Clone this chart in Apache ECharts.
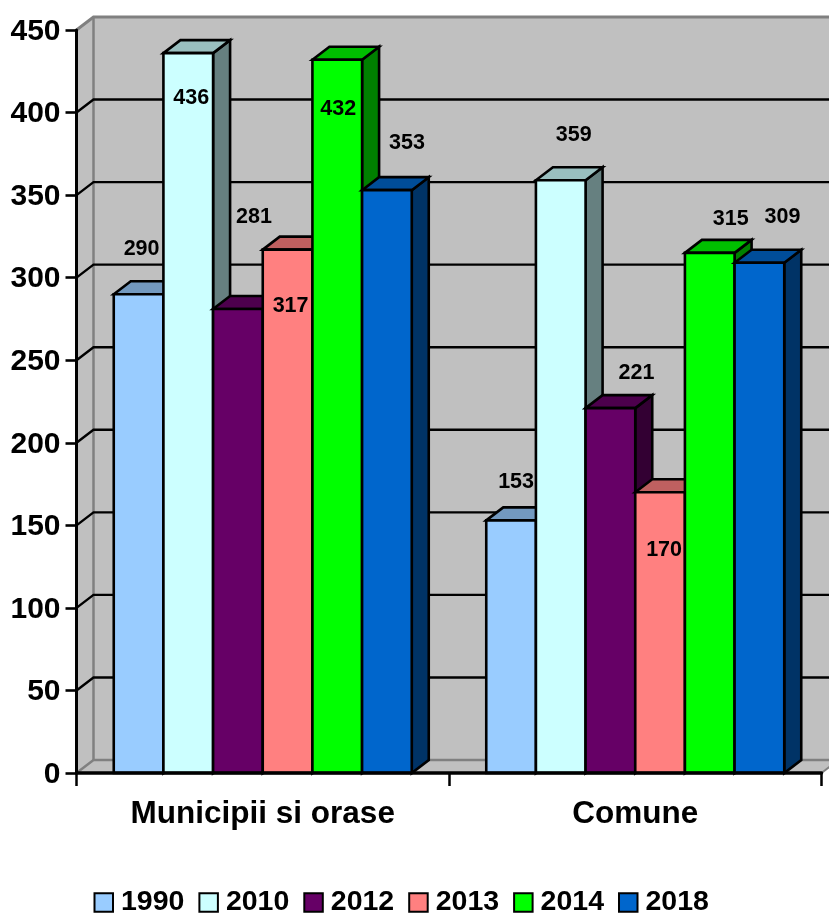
<!DOCTYPE html>
<html>
<head>
<meta charset="utf-8">
<style>html,body{margin:0;padding:0;background:#fff}#c{width:829px;height:914px}</style>
<script src="https://cdn.jsdelivr.net/npm/echarts@6/dist/echarts.min.js"></script>
</head>
<body>
<div id="c"></div>
<script>
const categories = ['Municipii si orase', 'Comune'];
const years = ['1990', '2010', '2012', '2013', '2014', '2018'];
const v1990 = [290, 153];
const v2010 = [436, 359];
const v2012 = [281, 221];
const v2013 = [317, 170];
const v2014 = [432, 315];
const v2018 = [353, 309];
const seriesValues = [v1990, v2010, v2012, v2013, v2014, v2018];
const yTicks = [0, 50, 100, 150, 200, 250, 300, 350, 400, 450];
const colors = ['#99CCFF', '#CCFFFF', '#660066', '#FF8080', '#00FF00', '#0066CC'];
// hand-placed label shifts from the bar's top centre, as in the reference
const labelShift = [
  [[3, -45], [5, -38]],
  [[3, 45], [13, -45]],
  [[16, -92], [26, -35]],
  [[3, 56], [4, 58]],
  [[1, 49], [21, -34]],
  [[20, -47], [23, -46]]
];
const DX = 17, DY = 13, FONT = '"Liberation Sans", Arial, sans-serif';

function shade(hex, k) {
  const n = parseInt(hex.slice(1), 16);
  const c = [(n >> 16) & 255, (n >> 8) & 255, n & 255].map(x => Math.round(x * k));
  return 'rgb(' + c.join(',') + ')';
}
function barGeom(api, s) {
  const p = api.coord([api.value(0), api.value(1)]);
  const base = api.coord([api.value(0), 0]);
  const band = api.size([1, 0])[0];
  const w = band / (years.length + 1.5);
  const x = p[0] - band / 2 + 0.75 * w + s * w;
  return { x, w, top: p[1], base: base[1], cx: x + w / 2 };
}
const poly = (points, fill, stroke, lw) => ({
  type: 'polygon', shape: { points },
  style: { fill, stroke, lineWidth: lw, lineJoin: 'miter' }
});
const line = (pts, stroke, lw) => ({
  type: 'polyline', shape: { points: pts },
  style: { fill: 'none', stroke, lineWidth: lw }
});

const wallSeries = {
  type: 'custom', name: 'wall', z: 1, silent: true,
  data: yTicks.map(t => [0, t]),
  encode: { x: 0, y: 1 },
  renderItem(params, api) {
    const t = api.value(1);
    const band = api.size([1, 0])[0];
    const c = api.coord([0, t]);
    const L = c[0] - band / 2, R = L + band * categories.length;
    const y = c[1];
    const children = [];
    if (params.dataIndex === 0) {
      const top = api.coord([0, yTicks[yTicks.length - 1]])[1];
      const G = '#C0C0C0', E = '#808080';
      children.push(poly([[L + DX, top - DY], [R + DX, top - DY], [R + DX, y - DY], [L + DX, y - DY]], G, null, 0));
      children.push(poly([[L, top], [L + DX, top - DY], [L + DX, y - DY], [L, y]], G, null, 0));
      children.push(poly([[L, y], [L + DX, y - DY], [R + DX, y - DY], [R, y]], G, null, 0));
      children.push(line([[L, top], [L + DX, top - DY], [R + DX, top - DY]], E, 3));
      children.push(line([[L + DX, top - DY], [L + DX, y - DY]], E, 2.5));
      children.push(line([[L, y], [L + DX, y - DY], [R + DX, y - DY]], E, 2.5));
      children.push(line([[R, y], [R + DX, y - DY]], E, 2));
    } else if (t !== yTicks[yTicks.length - 1]) {
      children.push(line([[L, y], [L + DX, y - DY], [R + DX, y - DY]], '#000', 2.4));
    }
    return { type: 'group', children };
  }
};

const barSeries = years.map((name, s) => ({
  type: 'custom', name, z: 2, silent: true,
  itemStyle: { color: colors[s] },
  data: seriesValues[s].map((v, i) => [i, v]),
  encode: { x: 0, y: 1 },
  renderItem(params, api) {
    const g = barGeom(api, s);
    const c = colors[s];
    return {
      type: 'group',
      children: [
        poly([[g.x + g.w, g.top], [g.x + g.w + DX, g.top - DY], [g.x + g.w + DX, g.base - DY], [g.x + g.w, g.base]], shade(c, 0.5), '#000', 2.6),
        poly([[g.x, g.top], [g.x + DX, g.top - DY], [g.x + g.w + DX, g.top - DY], [g.x + g.w, g.top]], shade(c, 0.75), '#000', 2.6),
        poly([[g.x, g.top], [g.x + g.w, g.top], [g.x + g.w, g.base], [g.x, g.base]], c, '#000', 2.6)
      ]
    };
  }
}));

const labelSeries = years.map((name, s) => ({
  type: 'custom', name: 'label' + name, z: 5, silent: true,
  data: seriesValues[s].map((v, i) => [i, v]),
  encode: { x: 0, y: 1 },
  renderItem(params, api) {
    const g = barGeom(api, s);
    const d = labelShift[s][params.dataIndex];
    return {
      type: 'text',
      style: {
        x: g.cx + d[0], y: g.top + d[1], text: String(api.value(1)),
        fill: '#000', align: 'center', verticalAlign: 'middle',
        font: 'bold 21.5px ' + FONT
      }
    };
  }
}));

const chart = echarts.init(document.getElementById('c'), null, { renderer: 'canvas', width: 829, height: 914 });
chart.setOption({
  animation: false,
  backgroundColor: '#fff',
  tooltip: { show: false },
  grid: { left: 76.5, top: 30, width: 745, height: 743, containLabel: false },
  xAxis: {
    type: 'category', data: categories, z: 6,
    axisLine: { show: true, lineStyle: { color: '#000', width: 3.5 } },
    axisTick: { show: true, length: 13, lineStyle: { color: '#000', width: 2.5 } },
    axisLabel: { color: '#000', fontFamily: FONT, fontWeight: 'bold', fontSize: 31.5, margin: 25, interval: 0 },
    splitLine: { show: false }
  },
  yAxis: {
    type: 'value', min: 0, max: 450, interval: 50, z: 6,
    axisLine: { show: true, lineStyle: { color: '#000', width: 3 } },
    axisTick: { show: true, length: 11, lineStyle: { color: '#000', width: 2.6 } },
    axisLabel: {
      margin: 16, formatter: '{a|{value}}',
      rich: { a: { color: '#000', fontFamily: FONT, fontWeight: 'bold', fontSize: 30, lineHeight: 30, padding: [3, 0, 0, 0] } }
    },
    splitLine: { show: false }
  },
  legend: {
    data: years.map((name, s) => ({ name, icon: 'rect', itemStyle: { color: colors[s], borderColor: '#000', borderWidth: 2 } })),
    left: 93.5, top: 888, padding: 0, itemWidth: 18.5, itemHeight: 18.5, itemGap: 14,
    selectedMode: false,
    textStyle: { color: '#000', fontFamily: FONT, fontWeight: 'bold', fontSize: 28.5, padding: [0, 0, 0, 3] }
  },
  series: [wallSeries, ...barSeries, ...labelSeries]
});
</script>
</body>
</html>
